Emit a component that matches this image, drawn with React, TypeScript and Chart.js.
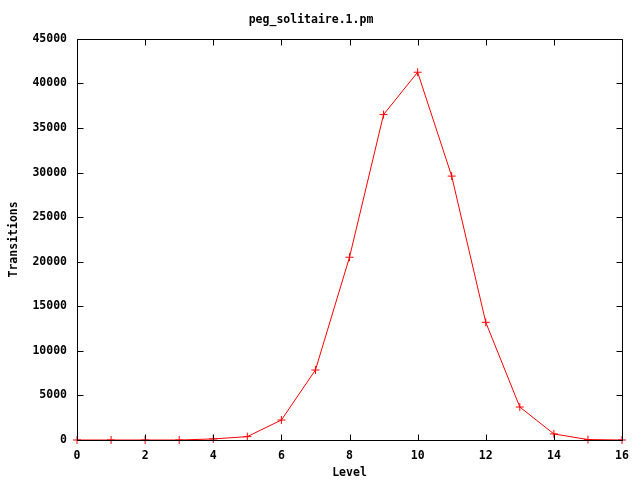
import React, { useEffect, useRef } from "react";
import { Chart, registerables } from "chart.js";

Chart.register(...registerables);

const levels = [0, 1, 2, 3, 4, 5, 6, 7, 8, 9, 10, 11, 12, 13, 14, 15, 16];
const transitions = [0, 0, 0, 0, 120, 380, 2240, 7850, 20500, 36500, 41250, 29600, 13200, 3700, 680, 50, 0];
const xTicks = [0, 2, 4, 6, 8, 10, 12, 14, 16];
const yTicks = [0, 5000, 10000, 15000, 20000, 25000, 30000, 35000, 40000, 45000];

const FONT = "'DejaVu Sans Mono', monospace";
const FS = 11.5;

const framePlugin = {
  id: "gnuplotFrame",
  afterDatasetsDraw(chart: any) {
    const { ctx, chartArea } = chart;
    const { left, right, top, bottom } = chartArea;
    const xs = chart.scales.x;
    const ys = chart.scales.y;
    ctx.save();
    ctx.strokeStyle = "#000";
    ctx.lineWidth = 1;
    ctx.beginPath();
    const L = Math.round(left) + 0.5;
    const R = Math.round(right) + 0.5;
    const T = Math.round(top) + 0.5;
    const B = Math.round(bottom) + 0.5;
    ctx.rect(L, T, R - L, B - T);
    const tl = 6;
    for (const v of xTicks) {
      const px = Math.round(xs.getPixelForValue(v)) + 0.5;
      ctx.moveTo(px, B);
      ctx.lineTo(px, B - tl);
      ctx.moveTo(px, T);
      ctx.lineTo(px, T + tl);
    }
    for (const v of yTicks) {
      const py = Math.round(ys.getPixelForValue(v)) + 0.5;
      ctx.moveTo(L, py);
      ctx.lineTo(L + tl, py);
      ctx.moveTo(R, py);
      ctx.lineTo(R - tl, py);
    }
    ctx.stroke();
    ctx.restore();
  },
};

export default function App() {
  const ref = useRef<HTMLCanvasElement>(null);
  useEffect(() => {
    if (!ref.current) return;
    const chart = new Chart(ref.current, {
      type: "line",
      data: {
        datasets: [
          {
            label: "transitions",
            data: levels.map((l, i) => ({ x: l, y: transitions[i] })),
            borderColor: "#ff0000",
            backgroundColor: "#ff0000",
            borderWidth: 1,
            pointStyle: "cross",
            pointRadius: 4,
            pointBorderWidth: 1,
            pointBorderColor: "#ff0000",
            tension: 0,
            clip: false as any,
          },
        ],
      },
      options: {
        responsive: false,
        animation: false,
        layout: { padding: { left: 0, right: 18, top: 0, bottom: 0 } },
        plugins: {
          legend: { display: false },
          tooltip: { enabled: false },
          title: {
            display: true,
            text: "peg_solitaire.1.pm",
            color: "#000",
            font: { family: FONT, size: FS, weight: "bold", lineHeight: 1.2 },
            padding: { top: 13, bottom: 12 },
          },
        },
        scales: {
          x: {
            type: "linear",
            min: 0,
            max: 16,
            afterBuildTicks: (s: any) => {
              s.ticks = xTicks.map((v) => ({ value: v }));
            },
            afterFit: (s: any) => {
              s.height = 40;
            },
            grid: { display: false, drawTicks: false },
            border: { display: false },
            ticks: {
              color: "#000",
              padding: 9,
              maxRotation: 0,
              callback: (v: any) => String(v),
              font: { family: FONT, size: FS, weight: "bold" },
            },
            title: {
              display: true,
              text: "Level",
              color: "#000",
              font: { family: FONT, size: FS, weight: "bold", lineHeight: 1.2 },
              padding: { top: 0, bottom: 0 },
            },
          },
          y: {
            type: "linear",
            min: 0,
            max: 45000,
            afterBuildTicks: (s: any) => {
              s.ticks = yTicks.map((v) => ({ value: v }));
            },
            afterFit: (s: any) => {
              s.width = 77;
            },
            grid: { display: false, drawTicks: false },
            border: { display: false },
            ticks: {
              color: "#000",
              padding: 10,
              callback: (v: any) => String(v),
              font: { family: FONT, size: FS, weight: "bold" },
            },
            title: {
              display: true,
              text: "Transitions",
              color: "#000",
              font: { family: FONT, size: FS, weight: "bold", lineHeight: 1.2 },
              padding: { top: 7, bottom: 0 },
            },
          },
        },
      },
      plugins: [framePlugin],
    });
    return () => chart.destroy();
  }, []);
  return (
    <canvas
      ref={ref}
      width={640}
      height={480}
      style={{ position: "absolute", left: 0, top: 0, width: 640, height: 480, background: "#fff" }}
    />
  );
}
